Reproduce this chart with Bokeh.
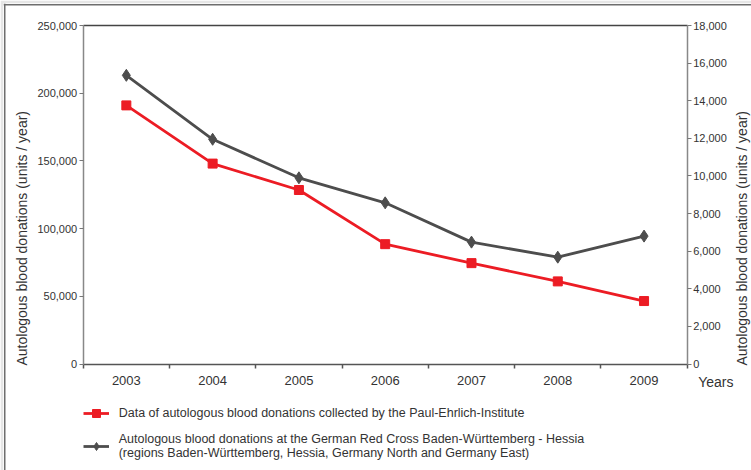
import math
from bokeh.plotting import figure
from bokeh.models import (Range1d, LinearAxis, FixedTicker, NumeralTickFormatter,
                          Legend, LegendItem, Label, Span, ColumnDataSource)
from bokeh.embed import file_html
from bokeh.resources import INLINE

years = ["2003", "2004", "2005", "2006", "2007", "2008", "2009"]
pei_values = [191000, 148000, 128500, 88500, 74500, 61000, 46500]
drk_values = [15350, 11950, 9900, 8570, 6480, 5680, 6800]
left_ticks = [0, 50000, 100000, 150000, 200000, 250000]
right_ticks = [0, 2000, 4000, 6000, 8000, 10000, 12000, 14000, 16000, 18000]
LEFT_MAX = 250000
RIGHT_MAX = 18000

FONT = "Liberation Sans"
RED = "#ec1c24"
GREY = "#4d4d4d"
TXT = "#333333"
TITLE = "Autologous blood donations (units / year)"

# ---- layout (pixels) ----
W, H = 751, 470
FR_L, FR_T = 3, 3            # outer panel (white area) starts here
EDGE = 4.25                  # outer frame line position
AX_L, AX_R = 82.7, 686.7     # plot area left / right
AX_T, AX_B = 25.0, 363.5     # plot area top / bottom
n = len(years)
ppx = (AX_R - AX_L) / n
x_start = -(AX_L - FR_L) / ppx
x_end = n + (W - AX_R) / ppx
ppy = (AX_B - AX_T) / LEFT_MAX
y_start = -(H - AX_B) / ppy
y_end = LEFT_MAX + (AX_T - FR_T) / ppy
ppr = (AX_B - AX_T) / RIGHT_MAX
r_start = -(H - AX_B) / ppr
r_end = RIGHT_MAX + (AX_T - FR_T) / ppr

xpos = [i + 0.5 for i in range(n)]
src = ColumnDataSource(dict(x=xpos, pei=pei_values, drk=drk_values))

p = figure(width=W, height=H, output_backend="svg", toolbar_location=None,
           x_range=Range1d(x_start, x_end), y_range=Range1d(y_start, y_end),
           x_axis_location=None, y_axis_location=None,
           min_border_left=FR_L, min_border_right=0, min_border_top=FR_T,
           min_border_bottom=0)
p.extra_y_ranges = {"drk": Range1d(r_start, r_end)}
p.grid.visible = False
p.outline_line_color = None
p.background_fill_color = "white"
p.border_fill_color = "#e6e6e6"

# outer frame lines (left and top only)
p.add_layout(Span(location=x_start + (EDGE - FR_L) / ppx, dimension="height",
                  line_color="#6e6e6e", line_width=1.5))
p.add_layout(Span(location=y_end - (EDGE - FR_T) / ppy, dimension="width",
                  line_color="#6e6e6e", line_width=1.5))


def style_axis(ax, size):
    ax.major_label_text_font = FONT
    ax.major_label_text_font_size = size
    ax.major_label_text_color = TXT
    ax.minor_tick_line_color = None
    ax.major_tick_in = 0
    ax.major_tick_out = 4


# bottom axis (years)
xa = LinearAxis(fixed_location=0, bounds=(0, n))
xa.ticker = FixedTicker(ticks=xpos, minor_ticks=list(range(n + 1)))
xa.major_label_overrides = {x: y for x, y in zip(xpos, years)}
style_axis(xa, "13px")
xa.major_tick_line_color = None
xa.minor_tick_in = 0
xa.minor_tick_out = 4
xa.minor_tick_line_color = "#555555"
xa.minor_tick_line_width = 1.5
xa.axis_line_color = "#555555"
xa.axis_line_width = 1.5
xa.major_label_standoff = 8
p.add_layout(xa, "below")

# top frame line of the plot area
ta = LinearAxis(fixed_location=LEFT_MAX, bounds=(0, n))
ta.ticker = FixedTicker(ticks=[])
ta.major_tick_line_color = None
ta.minor_tick_line_color = None
ta.major_label_text_alpha = 0
ta.axis_line_color = "#444444"
ta.axis_line_width = 1.5
p.add_layout(ta, "above")

# left axis
ya = LinearAxis(fixed_location=0, bounds=(0, LEFT_MAX))
ya.ticker = FixedTicker(ticks=left_ticks)
ya.formatter = NumeralTickFormatter(format="0,0")
style_axis(ya, "11px")
ya.major_tick_line_color = "#777777"
ya.axis_line_color = "#888888"
ya.axis_line_width = 1.5
ya.major_label_standoff = 2
p.add_layout(ya, "left")

# right axis
ra = LinearAxis(y_range_name="drk", fixed_location=n, bounds=(0, RIGHT_MAX))
ra.ticker = FixedTicker(ticks=right_ticks)
ra.formatter = NumeralTickFormatter(format="0,0")
style_axis(ra, "11px")
ra.major_tick_line_color = "#777777"
ra.axis_line_color = "#888888"
ra.axis_line_width = 1.5
ra.major_label_standoff = 2
p.add_layout(ra, "right")

# axis titles
p.add_layout(Label(x=0, y=0, x_offset=21.5 - AX_L, y_offset=-1.5,
                   angle=math.pi / 2, text=TITLE, text_font=FONT,
                   text_font_size="14px", text_color=TXT,
                   text_align="left", text_baseline="middle"))
p.add_layout(Label(x=n, y=0, x_offset=741.5 - AX_R, y_offset=-1.5,
                   angle=math.pi / 2, text=TITLE, text_font=FONT,
                   text_font_size="14px", text_color=TXT,
                   text_align="left", text_baseline="middle"))
p.add_layout(Label(x=n, y=0, x_offset=11, y_offset=-17.5,
                   text="Years", text_font=FONT, text_font_size="14px",
                   text_color=TXT, text_baseline="middle"))

# series
l1 = p.line("x", "pei", source=src, line_color=RED, line_width=2.8)
s1 = p.scatter("x", "pei", source=src, marker="square", size=9,
               fill_color=RED, line_color=RED)
l2 = p.line("x", "drk", source=src, line_color=GREY, line_width=2.8,
            y_range_name="drk")
s2 = p.scatter("x", "drk", source=src, marker="diamond", size=12,
               fill_color=GREY, line_color=GREY, y_range_name="drk")

legend = Legend(items=[
    LegendItem(label="Data of autologous blood donations collected by the Paul-Ehrlich-Institute",
               renderers=[l1, s1]),
    LegendItem(label="Autologous blood donations at the German Red Cross Baden-Württemberg - Hessia\n(regions Baden-Württemberg, Hessia, Germany North and Germany East)",
               renderers=[l2, s2]),
], location=(AX_L - FR_L, 10), orientation="vertical")
legend.label_text_font = FONT
legend.label_text_font_size = "12.5px"
legend.label_text_color = TXT
legend.border_line_color = None
legend.background_fill_alpha = 0
legend.margin = 0
legend.padding = 4
legend.glyph_width = 26
legend.label_standoff = 10
legend.spacing = 9
p.add_layout(legend, "center")

open("out.html", "w").write(file_html(p, INLINE))
